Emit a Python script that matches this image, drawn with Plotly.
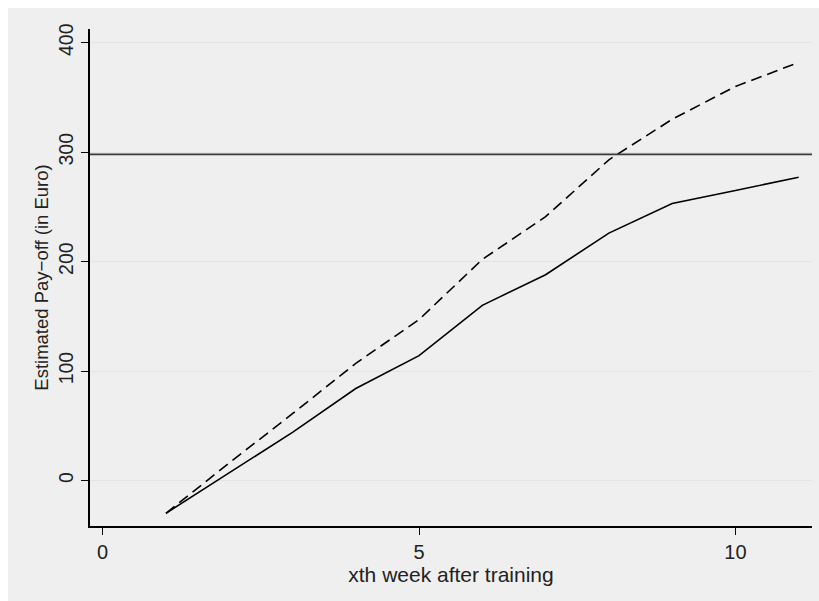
import plotly.graph_objects as go

# Weeks after training
weeks = [1, 2, 3, 4, 5, 6, 7, 8, 9, 10, 11]
# Estimated pay-off, lower (solid) and upper (dashed) scenario, in Euro
payoff_low = [-30, 7, 44, 84, 114, 160, 188, 226, 253, 265, 277]
payoff_high = [-30, 16, 61, 107, 147, 202, 241, 293, 330, 360, 382]
# Training cost reference level
cost_level = 298

y_ticks = [0, 100, 200, 300, 400]
x_ticks = [0, 5, 10]

W, H = 819, 601
L, R, T, B = 90, 7, 29, 75
pw, ph = W - L - R, H - T - B

fig = go.Figure()

fig.add_trace(go.Scatter(
    x=weeks, y=payoff_low, mode="lines",
    line=dict(color="black", width=1.6),
    showlegend=False, hoverinfo="skip"))
fig.add_trace(go.Scatter(
    x=weeks, y=payoff_high, mode="lines",
    line=dict(color="black", width=1.6, dash="11px,6px"),
    showlegend=False, hoverinfo="skip"))

fig.add_hline(y=cost_level, line=dict(color="#3a3a3a", width=1.8))

# Gray graph region behind the plot area
fig.add_shape(type="rect", xref="paper", yref="paper", layer="below",
              x0=(8 - L) / pw, x1=(W - L) / pw + 0.01,
              y0=-(B + 5) / ph, y1=(ph + T - 8) / ph,
              fillcolor="#efefef", line=dict(width=0))

font = dict(family="Liberation Sans, Arial, sans-serif", size=18, color="#222")

fig.update_layout(
    width=W, height=H,
    margin=dict(l=L, r=R, t=T, b=B, pad=0),
    paper_bgcolor="white",
    plot_bgcolor="white",
    font=font,
    xaxis=dict(
        range=[-0.2, 11.21],
        tickmode="array", tickvals=x_ticks,
        ticks="outside", ticklen=7, tickcolor="black", tickwidth=1,
        showline=True, linecolor="black", linewidth=1.5,
        showgrid=False, zeroline=False,
        title=dict(text="xth week after training", standoff=4,
                   font=dict(size=21)),
        tickfont=dict(size=20),
    ),
    yaxis=dict(
        range=[-41.6, 412.5],
        tickmode="array", tickvals=y_ticks,
        ticks="outside", ticklen=7, tickcolor="black", tickwidth=1,
        tickangle=-90,
        showline=True, linecolor="black", linewidth=1.5,
        showgrid=True, gridcolor="#e4e4e4", gridwidth=1.2,
        zeroline=False,
        title=dict(text="Estimated Pay\u2212off (in Euro)", standoff=2,
                   font=dict(size=18.5)),
        tickfont=dict(size=19.5),
    ),
)

fig.write_html("out.html")
